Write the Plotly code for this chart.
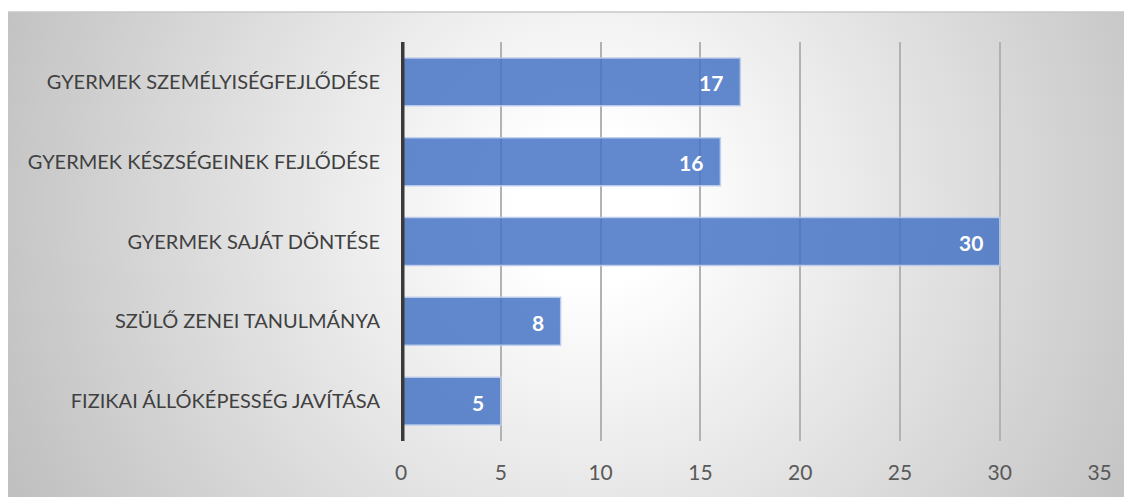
import plotly.graph_objects as go
import urllib.parse

categories = [
    "GYERMEK SZEMÉLYISÉGFEJLŐDÉSE",
    "GYERMEK KÉSZSÉGEINEK FEJLŐDÉSE",
    "GYERMEK SAJÁT DÖNTÉSE",
    "SZÜLŐ ZENEI TANULMÁNYA",
    "FIZIKAI ÁLLÓKÉPESSÉG JAVÍTÁSA",
]
values = [17, 16, 30, 8, 5]
tick_vals = [0, 5, 10, 15, 20, 25, 30, 35]

# page body has an 8px margin; figure sized to fit the remaining window
W, H = 1124, 489
ML, MR, MT, MB = 393, 32, 34, 56
PW, PH = W - ML - MR, H - MT - MB
FONT = "Lato, 'Open Sans', sans-serif"

svg = (
    f'<svg xmlns="http://www.w3.org/2000/svg" width="{W}" height="{H}" viewBox="0 0 {W} {H}">'
    '<defs><radialGradient id="g" gradientUnits="userSpaceOnUse" cx="585" cy="200" r="640">'
    '<stop offset="0" stop-color="#ffffff"/>'
    '<stop offset="0.12" stop-color="#ffffff"/>'
    '<stop offset="1" stop-color="#c0c0c0"/>'
    '</radialGradient></defs>'
    f'<rect x="-1" y="4" width="{W+2}" height="{H}" fill="url(#g)" stroke="#c8c8c8" stroke-width="1.5"/>'
    '</svg>'
)
bg_src = "data:image/svg+xml;charset=utf-8," + urllib.parse.quote(svg)

fig = go.Figure()
fig.add_trace(go.Bar(
    y=categories,
    x=values,
    orientation="h",
    marker=dict(color="rgba(68,114,196,0.84)", line=dict(color="rgba(190,205,235,0.9)", width=1.5)),
    width=0.6,
    hoverinfo="skip",
))

for c, v in zip(categories, values):
    fig.add_annotation(
        x=v, y=c, text=f"<b>{v}</b>", showarrow=False,
        xanchor="right", xshift=-15, yshift=-1,
        font=dict(family=FONT, size=21, color="white"),
    )

# vertical category axis line at x = 0 (half is clipped by the plot edge)
fig.add_shape(type="line", xref="x", yref="y domain", x0=0, x1=0, y0=0, y1=1,
              line=dict(color="#3a3a3a", width=7), layer="above")

fig.update_layout(
    width=W, height=H,
    margin=dict(l=ML, r=MR, t=MT, b=MB),
    paper_bgcolor="white",
    plot_bgcolor="rgba(0,0,0,0)",
    showlegend=False,
    images=[dict(source=bg_src, xref="x domain", yref="y domain",
                 x=-ML / PW, y=1 + MT / PH, sizex=W / PW, sizey=H / PH,
                 xanchor="left", yanchor="top", sizing="stretch", layer="below")],
    xaxis=dict(
        range=[0, 35.02], tickvals=tick_vals, ticktext=[str(t) for t in tick_vals],
        showgrid=True, gridcolor="#b2b2b2", gridwidth=1.6,
        zeroline=False, showline=False,
        tickfont=dict(family=FONT, size=21, color="#595959"),
        ticks="", ticklabelstandoff=17,
    ),
    yaxis=dict(
        categoryorder="array", categoryarray=categories, autorange="reversed",
        showgrid=False, zeroline=False, showline=False,
        tickfont=dict(family=FONT, size=20, color="#404040"),
        ticks="", ticklabelstandoff=20,
    ),
)

fig.write_html("out.html")
